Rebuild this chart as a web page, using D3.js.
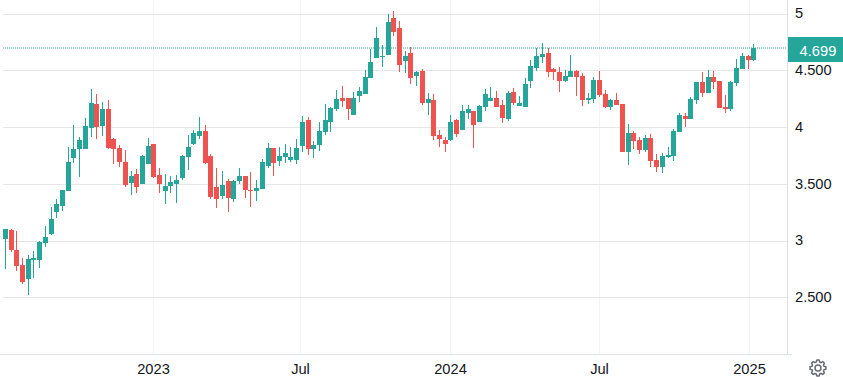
<!DOCTYPE html>
<html><head><meta charset="utf-8">
<style>html,body{margin:0;padding:0;background:#fff;overflow:hidden}svg{display:block}text{font-family:"Liberation Sans",Arial,sans-serif}</style>
<script src="https://cdn.jsdelivr.net/npm/d3@7/dist/d3.min.js"></script>
</head><body><svg id="c" width="843" height="377"></svg>
<script>
const firstWeek = "2022-07-04";
const lastWeek = "2025-01-06";
const open = [3.017,3.096,2.92,2.788,2.664,2.832,2.832,2.982,3.061,3.255,
3.308,3.441,3.732,3.811,3.811,3.996,4.208,4.014,4.164,3.896,
3.82,3.696,3.511,3.591,3.502,3.679,3.855,3.582,3.441,3.485,
3.502,3.555,3.741,3.855,3.926,3.971,3.75,3.476,3.397,3.529,
3.371,3.529,3.573,3.45,3.441,3.459,3.662,3.821,3.706,3.741,
3.715,3.715,3.838,4.068,3.812,3.847,3.962,4.05,4.165,4.262,
4.262,4.112,4.279,4.297,4.438,4.614,4.623,4.641,4.967,4.879,
4.588,4.658,4.455,4.5,4.217,4.244,3.935,3.891,3.891,4.067,
3.979,4.129,4.147,4.05,4.182,4.235,4.261,4.2,4.076,4.314,
4.191,4.182,4.411,4.526,4.623,4.658,4.517,4.491,4.411,4.447,
4.5,4.455,4.243,4.252,4.42,4.296,4.182,4.243,4.208,3.785,
3.952,3.89,3.802,3.908,3.714,3.652,3.74,3.749,3.961,4.102,
4.076,4.243,4.402,4.305,4.446,4.411,4.182,4.164,4.393,4.517,
4.632,4.596];
const high = [3.105,3.105,3.088,2.849,2.876,2.911,2.999,3.132,3.299,3.37,
3.449,3.829,4.023,3.917,4.085,4.341,4.296,4.226,4.244,3.908,
3.846,3.802,3.617,3.635,3.758,3.908,3.855,3.644,3.591,3.573,
3.582,3.758,3.935,3.979,4.094,4.023,3.768,3.644,3.618,3.547,
3.538,3.644,3.573,3.609,3.538,3.723,3.865,3.821,3.829,3.856,
3.829,3.9,4.103,4.094,3.882,4.05,4.209,4.182,4.332,4.368,
4.262,4.315,4.359,4.509,4.694,4.888,4.729,5.002,5.029,4.941,
4.676,4.711,4.5,4.517,4.305,4.297,3.979,3.917,4.111,4.076,
4.2,4.2,4.147,4.2,4.341,4.358,4.323,4.244,4.323,4.35,
4.279,4.438,4.597,4.702,4.747,4.702,4.526,4.535,4.508,4.641,
4.508,4.482,4.305,4.446,4.499,4.332,4.252,4.305,4.208,4.032,
3.97,3.917,3.935,3.943,3.767,3.776,3.829,3.987,4.129,4.129,
4.27,4.402,4.49,4.508,4.499,4.411,4.287,4.411,4.605,4.658,
4.64,4.737];
const low = [2.752,2.902,2.735,2.62,2.523,2.673,2.761,2.946,3.052,3.202,
3.264,3.441,3.688,3.564,3.811,3.917,3.899,3.926,3.811,3.679,
3.652,3.476,3.405,3.423,3.502,3.679,3.555,3.423,3.326,3.423,
3.335,3.538,3.626,3.846,3.9,3.679,3.371,3.291,3.371,3.256,
3.344,3.503,3.379,3.3,3.353,3.459,3.644,3.573,3.662,3.688,
3.697,3.679,3.785,3.759,3.732,3.794,3.935,3.962,4.147,4.182,
4.068,4.112,4.226,4.297,4.438,4.614,4.535,4.641,4.808,4.491,
4.482,4.385,4.367,4.2,4.111,3.891,3.829,3.785,3.882,3.917,
3.979,4.076,3.82,4.05,4.147,4.235,4.182,4.041,4.058,4.2,
4.191,4.182,4.35,4.5,4.57,4.447,4.42,4.314,4.402,4.447,
4.279,4.191,4.208,4.217,4.27,4.173,4.155,4.199,3.785,3.67,
3.811,3.767,3.785,3.652,3.608,3.599,3.732,3.705,3.961,4.005,
4.076,4.208,4.27,4.305,4.34,4.173,4.129,4.146,4.367,4.517,
4.517,4.587];
const close = [3.105,2.92,2.779,2.638,2.841,2.849,2.991,3.035,3.194,3.326,
3.449,3.696,3.811,3.891,4.014,4.217,4.005,4.164,3.82,3.811,
3.696,3.494,3.573,3.476,3.749,3.838,3.564,3.502,3.485,3.52,
3.538,3.749,3.829,3.952,3.971,3.688,3.388,3.371,3.494,3.379,
3.529,3.573,3.45,3.441,3.468,3.697,3.821,3.688,3.75,3.776,
3.741,3.821,4.05,3.812,3.847,3.971,4.068,4.173,4.253,4.235,
4.165,4.262,4.323,4.447,4.579,4.791,4.632,4.932,4.844,4.552,
4.632,4.438,4.491,4.217,4.252,3.926,3.9,3.855,4.05,3.944,
4.147,4.164,4.023,4.191,4.297,4.261,4.182,4.085,4.305,4.217,
4.217,4.385,4.544,4.632,4.65,4.491,4.491,4.411,4.455,4.5,
4.447,4.244,4.261,4.42,4.287,4.182,4.243,4.199,3.785,3.952,
3.882,3.802,3.908,3.705,3.652,3.749,3.758,3.97,4.111,4.076,
4.252,4.402,4.305,4.446,4.402,4.173,4.164,4.402,4.526,4.632,
4.596,4.699];
const priceTicks = [5,4.5,4,3.5,3,2.5];
const priceLabels = ["5","4.500","4","3.500","3","2.500"];
const timeTicks = ["2023-01-01","2023-07-01","2024-01-01","2024-07-01","2025-01-01"];
const timeLabels = ["2023","Jul","2024","Jul","2025"];
const lastPrice = 4.699;
const lastLabel = "4.699";

const UP = "#26a69a", DOWN = "#ef5350", TXT = "#131722", GRIDH = "#e6e6e6", GRIDV = "#f0f3f7", AXIS = "#e0e3eb";
const left = 3, plotR = 787, bottom = 354, fontSize = 14.67;
const svg = d3.select("#c");
const weeks = d3.utcMonday.range(new Date(firstWeek), new Date(new Date(lastWeek).getTime() + 864e5));
const xS = d3.scaleUtc().domain([new Date(firstWeek), new Date(lastWeek)]).range([4.8, 753.3]);
const yS = d3.scaleLinear().domain([2.5, 5]).range([297.8, 14]);
const col = d => Math.round(xS(d));
const row = v => Math.floor(yS(v));
const crispX = d => col(d) + 0.5;
const crispY = v => row(v) + 0.5;

// grid
svg.append("g").selectAll("line").data(timeTicks).join("line")
  .attr("x1", d => crispX(new Date(d))).attr("x2", d => crispX(new Date(d)))
  .attr("y1", 0).attr("y2", bottom).attr("stroke", GRIDV);
svg.append("g").selectAll("line").data(priceTicks).join("line")
  .attr("x1", left).attr("x2", plotR).attr("y1", crispY).attr("y2", crispY).attr("stroke", GRIDH);

// last price line
svg.append("line").attr("x1", left).attr("x2", plotR)
  .attr("y1", Math.round(yS(lastPrice))).attr("y2", Math.round(yS(lastPrice)))
  .attr("stroke", UP).attr("stroke-dasharray", "1,1");

// candles
const candles = svg.append("g").selectAll("g").data(weeks).join("g")
  .attr("fill", (d, i) => close[i] >= open[i] ? UP : DOWN);
candles.append("rect").attr("x", d => col(d)).attr("width", 1)
  .attr("y", (d, i) => Math.round(yS(high[i])))
  .attr("height", (d, i) => Math.max(1, Math.round(yS(low[i])) - Math.round(yS(high[i]))));
candles.append("rect").attr("x", d => col(d) - 2).attr("width", 5)
  .attr("y", (d, i) => Math.round(yS(Math.max(open[i], close[i]))))
  .attr("height", (d, i) => Math.max(1, Math.round(yS(Math.min(open[i], close[i]))) - Math.round(yS(Math.max(open[i], close[i])))));

// axis frame
svg.append("line").attr("x1", plotR + 0.5).attr("x2", plotR + 0.5).attr("y1", 0).attr("y2", bottom + 1).attr("stroke", AXIS);
svg.append("line").attr("x1", 0).attr("x2", 792).attr("y1", bottom + 0.5).attr("y2", bottom + 0.5).attr("stroke", AXIS);

// price axis
const yAxis = d3.axisRight(yS).tickValues(priceTicks).tickSize(0).tickPadding(0)
  .tickFormat((d, i) => priceLabels[i]);
const gy = svg.append("g").attr("transform", "translate(795,-1.4)").call(yAxis);
gy.select(".domain").remove();
gy.selectAll("text").attr("font-size", fontSize).attr("fill", TXT).attr("x", 0).attr("dy", "0.35em")
  .style("font-family", '"Liberation Sans",Arial,sans-serif');

// time axis
const xAxis = d3.axisBottom(xS).tickValues(timeTicks.map(d => new Date(d))).tickSize(0).tickPadding(0)
  .tickFormat((d, i) => timeLabels[i]);
const gx = svg.append("g").call(xAxis);
gx.select(".domain").remove();
gx.selectAll(".tick").attr("transform", d => `translate(${crispX(d)},0)`);
gx.selectAll("text").attr("font-size", fontSize).attr("fill", TXT).attr("y", 373.5).attr("dy", 0)
  .style("font-family", '"Liberation Sans",Arial,sans-serif');

// last price label
svg.append("rect").attr("x", 788).attr("y", 37).attr("width", 55).attr("height", 25).attr("fill", UP);
svg.append("text").attr("x", 836.3).attr("y", 55.7).attr("text-anchor", "end")
  .attr("font-size", fontSize).attr("fill", "#fff").text(lastLabel);

// gear icon
const teeth = 8, rO = 8, rI = 6.2, pts = [];
d3.range(teeth).forEach(k => {
  const a = k / teeth * 2 * Math.PI, w = Math.PI / teeth;
  [[rI, -w * 0.72], [rO, -w * 0.38], [rO, w * 0.38], [rI, w * 0.72]].forEach(([r, o]) => pts.push([r * Math.sin(a + o), -r * Math.cos(a + o)]));
});
const gear = svg.append("g").attr("transform", "translate(818,368)").attr("fill", "none").attr("stroke", "#666a75").attr("stroke-width", 1.5);
gear.append("path").attr("d", d3.line().curve(d3.curveLinearClosed)(pts)).attr("stroke-linejoin", "round");
gear.append("circle").attr("r", 3);
</script></body></html>
